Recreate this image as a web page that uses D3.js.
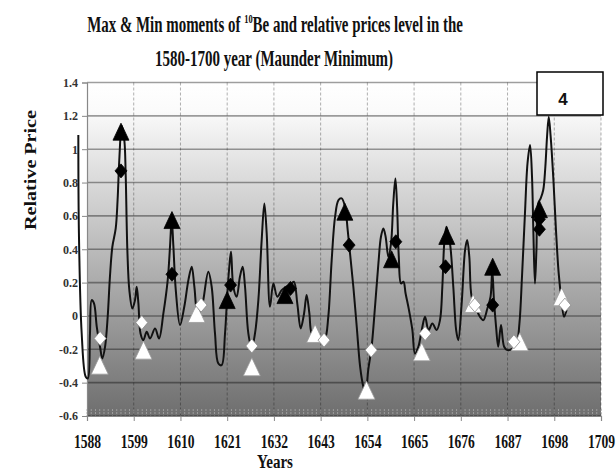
<!DOCTYPE html>
<html><head><meta charset="utf-8">
<script src="https://cdn.jsdelivr.net/npm/d3@7"></script>
<style>html,body{margin:0;padding:0;background:#fff;}svg{display:block;}</style>
</head><body>
<script>
// ---- data ----
const yearTicks = [1588,1599,1610,1621,1632,1643,1654,1665,1676,1687,1698,1709];
const valueTicks = [-0.6,-0.4,-0.2,0,0.2,0.4,0.6,0.8,1,1.2,1.4];
const valueTickLabels = ["-0.6","-0.4","-0.2","0","0.2","0.4","0.6","0.8","1","1.2","1.4"];

const priceYears = [1585.96,1586.1,1586.75,1587.7,1588.2,1588.7,1589.1,1589.65,1590.3,1591.07,1591.6,1592.25,1592.87,1593.4,1593.97,1594.76,1595.2,1595.6,1596.17,1596.8,1597.1,1597.5,1597.97,1598.68,1599.3,1599.7,1600.1,1600.6,1601.27,1602.06,1602.84,1604.02,1604.96,1605.98,1607.0,1607.55,1607.94,1608.33,1608.9,1609.9,1610.9,1611.87,1612.65,1613.28,1614.07,1614.85,1615.38,1616.56,1617.35,1618.13,1618.92,1619.7,1620.49,1621.04,1621.5,1621.9,1622.45,1623.23,1624.0,1624.65,1625.2,1625.98,1626.77,1627.55,1628.34,1629.12,1629.75,1630.3,1631.08,1631.87,1632.8,1633.83,1634.85,1635.8,1636.7,1637.5,1638.3,1639.1,1639.7,1640.35,1640.9,1642.07,1643.25,1644.03,1644.8,1645.6,1646.4,1647.2,1647.95,1648.74,1649.37,1650.0,1650.7,1651.5,1652.3,1653.06,1653.6,1654.2,1655.0,1655.8,1656.6,1657.2,1657.77,1658.3,1658.94,1659.57,1660.1,1660.6,1661.0,1661.4,1661.93,1662.5,1663.0,1663.8,1664.6,1665.2,1666.0,1666.8,1667.58,1668.4,1669.3,1670.3,1671.1,1671.65,1672.1,1672.6,1673.45,1674.23,1674.9,1675.4,1676.2,1677.0,1677.5,1678.0,1678.55,1679.6,1680.5,1681.3,1682.25,1683.0,1683.4,1683.8,1684.3,1684.8,1685.46,1686.2,1686.95,1688.2,1689.15,1689.8,1690.4,1691.1,1691.7,1692.3,1692.76,1693.07,1693.45,1693.8,1694.2,1694.8,1695.4,1695.9,1696.3,1696.7,1697.15,1697.8,1698.4,1699.04,1699.7,1700.3,1700.9];
const priceValues = [1.085,0.495,-0.105,-0.365,-0.375,-0.105,0.095,0.075,-0.065,-0.185,-0.255,-0.185,-0.005,0.235,0.415,0.525,0.695,0.935,1.14,1.05,0.855,0.395,0.155,0.045,0.095,0.175,0.075,-0.105,-0.145,-0.095,-0.135,-0.075,-0.135,0.015,0.215,0.42,0.58,0.42,0.155,-0.055,0.055,0.215,0.295,0.175,0.015,0.035,0.095,0.265,0.175,-0.105,-0.285,-0.295,-0.105,0.135,0.295,0.385,0.175,0.115,0.235,0.295,0.175,-0.105,-0.195,-0.105,0.095,0.455,0.675,0.495,0.055,0.195,0.115,0.155,0.175,0.185,0.205,0.075,-0.075,0.015,0.125,0.015,-0.105,-0.135,-0.145,-0.135,-0.005,0.335,0.595,0.695,0.705,0.655,0.515,0.355,0.175,-0.065,-0.305,-0.425,-0.465,-0.325,-0.185,0.055,0.315,0.475,0.525,0.475,0.355,0.435,0.675,0.825,0.655,0.355,0.195,0.205,0.135,0.035,-0.085,-0.225,-0.185,-0.085,-0.005,-0.085,-0.045,-0.085,-0.025,0.175,0.435,0.535,0.435,0.175,-0.085,-0.145,0.075,0.395,0.455,0.355,0.115,0.045,-0.005,-0.025,0.045,0.115,0.275,0.095,-0.065,-0.185,-0.055,-0.185,-0.205,-0.195,-0.165,-0.045,0.235,0.615,0.915,1.025,0.835,0.515,0.195,0.395,0.675,0.705,0.755,0.895,1.075,1.195,1.075,0.815,0.515,0.255,0.095,-0.005,0.035];

const maxTriYears  = [1596.0,1608.0,1621.0,1634.6,1648.7,1659.7,1672.7,1683.5,1694.5];
const maxTriValues = [1.105,0.575,0.095,0.125,0.625,0.34,0.48,0.295,0.64];
const maxDiaYears  = [1596.0,1608.0,1621.8,1635.9,1649.7,1660.7,1672.4,1683.5,1694.5,1694.5];
const maxDiaValues = [0.87,0.25,0.185,0.165,0.425,0.445,0.295,0.065,0.58,0.52];
const minTriYears  = [1591.0,1601.3,1613.8,1626.8,1641.7,1653.8,1666.8,1678.9,1689.9,1699.75];
const minTriValues = [-0.295,-0.205,0.015,-0.305,-0.105,-0.445,-0.215,0.075,-0.155,0.115];
const minDiaYears  = [1591.1,1600.9,1614.85,1626.8,1643.8,1654.9,1667.6,1679.3,1688.5,1700.5];
const minDiaValues = [-0.135,-0.04,0.065,-0.18,-0.145,-0.205,-0.105,0.065,-0.155,0.065];

const titleLine1a = "Max & Min moments of ";
const titleSup = "10";
const titleLine1b = "Be and relative prices level in the";
const titleLine2 = "1580-1700 year (Maunder Minimum)";
const yTitle = "Relative Price";
const xTitle = "Years";
const boxLabel = "4";

// ---- layout ----
const W = 616, H = 471;
const x = d3.scaleLinear().domain([1588,1709]).range([87,601]);
const y = d3.scaleLinear().domain([-0.6,1.4]).range([416,82.5]);
const serif = "'Liberation Serif','Times New Roman',serif";

const svg = d3.select("body").append("svg").attr("width",W).attr("height",H);
const defs = svg.append("defs");
const grad = defs.append("linearGradient").attr("id","bg").attr("x1",0).attr("y1",0).attr("x2",0).attr("y2",1);
grad.append("stop").attr("offset","0%").attr("stop-color","#ffffff");
grad.append("stop").attr("offset","8%").attr("stop-color","#fbfbfb");
grad.append("stop").attr("offset","100%").attr("stop-color","#6e6e6e");

svg.append("rect").attr("x",x(1588)).attr("y",y(1.4)).attr("width",x(1709)-x(1588)).attr("height",y(-0.6)-y(1.4)).attr("fill","url(#bg)");

// per-year minor ticks along bottom
const years = d3.range(1588,1710);
svg.append("g").selectAll("line").data(years).join("line")
  .attr("x1",d=>x(d)).attr("x2",d=>x(d)).attr("y1",y(-0.6)-7).attr("y2",y(-0.6))
  .attr("stroke","#a8a8a8").attr("stroke-width",0.8).attr("stroke-dasharray","2,1");

// horizontal gridlines
svg.append("g").selectAll("line").data(valueTicks).join("line")
  .attr("x1",x(1588)).attr("x2",x(1709)).attr("y1",d=>y(d)).attr("y2",d=>y(d))
  .attr("stroke","rgba(0,0,0,0.38)").attr("stroke-width",1.6);
// vertical gridlines
svg.append("g").selectAll("line").data(yearTicks.slice(1)).join("line")
  .attr("x1",d=>x(d)).attr("x2",d=>x(d)).attr("y1",y(1.4)).attr("y2",y(-0.6))
  .attr("stroke","rgba(0,0,0,0.35)").attr("stroke-width",0.9).attr("stroke-dasharray","3,2");

// axes
const yAxis = d3.axisLeft(y).tickValues(valueTicks).tickSize(5).tickPadding(4)
  .tickFormat((d,i)=>valueTickLabels[i]);
const gy = svg.append("g").attr("transform",`translate(${x(1588)},0)`).call(yAxis);
gy.select(".domain").attr("stroke","#888").attr("stroke-width",1.2);
gy.selectAll(".tick line").attr("stroke","#888");
gy.selectAll(".tick text").attr("font-family",serif).attr("font-weight","bold").attr("font-size",12).attr("fill","#333");

const xAxis = d3.axisBottom(x).tickValues(yearTicks).tickSize(5).tickFormat(d=>String(d));
const gx = svg.append("g").attr("transform",`translate(0,${y(-0.6)})`).call(xAxis);
gx.select(".domain").attr("stroke","#888").attr("stroke-width",1.2);
gx.selectAll(".tick line").attr("stroke","#888");
gx.selectAll(".tick text").attr("font-family",serif).attr("font-weight","bold").attr("font-size",17).attr("fill","#111")
  .attr("y",0).attr("dy",0).attr("transform","translate(0,32) scale(0.8,1.05)");

// price line
const pts = priceYears.map((d,i)=>[d,priceValues[i]]);
const line = d3.line().x(d=>x(d[0])).y(d=>y(d[1])).curve(d3.curveCatmullRom.alpha(0.5));
svg.append("path").attr("d",line(pts)).attr("fill","none").attr("stroke","#111").attr("stroke-width",2);

// marker symbol types
const tri = (w,h)=>({draw(ctx){ctx.moveTo(0,-h/2);ctx.lineTo(w/2,h/2);ctx.lineTo(-w/2,h/2);ctx.closePath();}});
const dia = (w,h)=>({draw(ctx){ctx.moveTo(0,-h/2);ctx.lineTo(w/2,0);ctx.lineTo(0,h/2);ctx.lineTo(-w/2,0);ctx.closePath();}});
function markers(ys, vs, type, fill, stroke){
  svg.append("g").selectAll("path").data(ys.map((d,i)=>[d,vs[i]])).join("path")
    .attr("transform",d=>`translate(${x(d[0])},${y(d[1])})`)
    .attr("d",d3.symbol().type(type)())
    .attr("fill",fill).attr("stroke",stroke).attr("stroke-width",0.8);
}
markers(minTriYears,minTriValues,tri(17,18),"#ffffff","#9a9a9a");
markers(minDiaYears,minDiaValues,dia(12,14),"#ffffff","#8a8a8a");
markers(maxTriYears,maxTriValues,tri(16,17),"#000000","#000");
markers(maxDiaYears,maxDiaValues,dia(12,14),"#000000","#000");

// helper to fit text into a measured width
function fitText(t, cx, cy, targetW, rot){
  const w = t.node().getBBox().width;
  const sx = targetW / w;
  t.attr("transform", `translate(${cx},${cy})${rot?` rotate(${rot})`:""} scale(${sx},1)`);
}

// title
const t1 = svg.append("text").attr("text-anchor","middle").attr("font-family",serif).attr("font-weight","bold").attr("font-size",23).attr("fill","#111");
t1.append("tspan").text(titleLine1a);
t1.append("tspan").attr("font-size",13).attr("dy",-9).text(titleSup);
t1.append("tspan").attr("dy",9).text(titleLine1b);
fitText(t1, 275, 32, 376);
const t2 = svg.append("text").attr("text-anchor","middle").attr("font-family",serif).attr("font-weight","bold").attr("font-size",23).attr("fill","#111").text(titleLine2);
fitText(t2, 274, 66, 238);

// axis titles
const yt = svg.append("text").attr("text-anchor","middle").attr("font-family",serif).attr("font-weight","bold").attr("font-size",16).attr("fill","#111").text(yTitle);
fitText(yt, 36, 170, 120, -90);
const xt = svg.append("text").attr("text-anchor","middle").attr("font-family",serif).attr("font-weight","bold").attr("font-size",18).attr("fill","#111").text(xTitle);
fitText(xt, 275, 468, 36);

// box "4"
svg.append("rect").attr("x",537).attr("y",72).attr("width",66).attr("height",43).attr("fill","#fff").attr("stroke","#000").attr("stroke-width",1.5);
svg.append("text").attr("x",563).attr("y",105).attr("text-anchor","middle").attr("font-family","'Liberation Sans',Arial,sans-serif").attr("font-weight","bold").attr("font-size",17).attr("fill","#111").text(boxLabel);
</script>
</body></html>
